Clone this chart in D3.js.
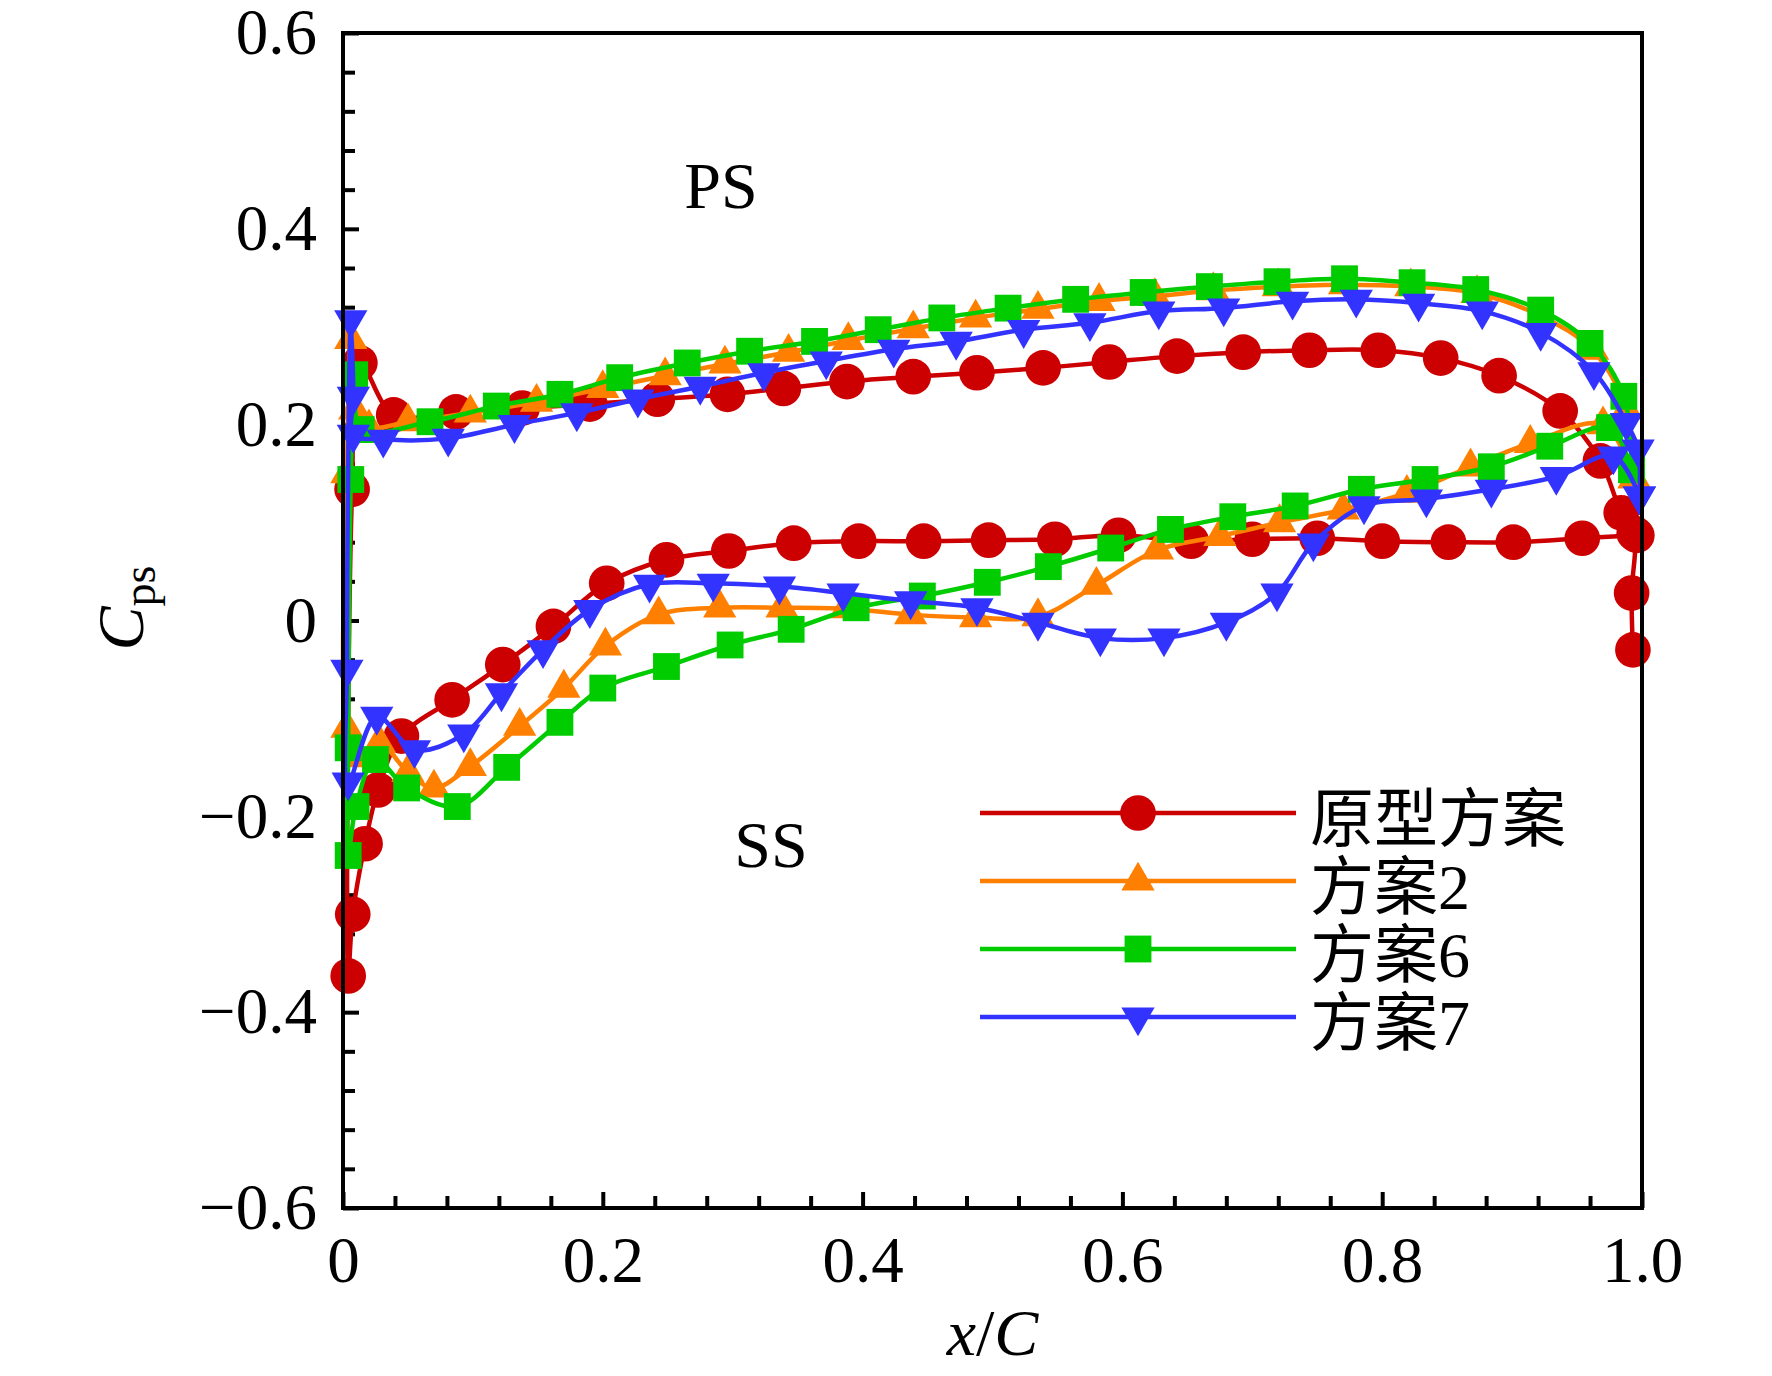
<!DOCTYPE html>
<html>
<head>
<meta charset="utf-8">
<script src="https://cdn.jsdelivr.net/npm/d3@7"></script>
<style>
  body { margin: 0; background: #fff; }
  text { font-family: "Liberation Serif", "Times New Roman", "Noto Sans CJK SC", serif; }
</style>
</head>
<body>
<div id="chart"></div>
<script>
// series names (legend) and colours
var seriesNames = ["原型方案", "方案2", "方案6", "方案7"];

// pressure side: trailing edge -> leading edge ; suction side: leading edge -> trailing edge
var origPS = [[0.993,-0.030],[0.992,0.028],[0.994,0.089],[0.984,0.110],[0.968,0.163],[0.937,0.214],[0.890,0.250],
  [0.845,0.268],[0.797,0.276],[0.744,0.276],[0.693,0.274],[0.642,0.270],[0.590,0.264],[0.539,0.258],[0.488,0.253],
  [0.439,0.249],[0.388,0.244],[0.339,0.237],[0.296,0.231],[0.242,0.226],[0.190,0.221],[0.138,0.217],[0.087,0.213],
  [0.039,0.210],[0.013,0.263],[0.007,0.134],[0.004,-0.363]];
var origSS = [[0.0075,-0.300],[0.017,-0.228],[0.027,-0.173],[0.045,-0.118],[0.084,-0.081],[0.123,-0.045],[0.162,-0.006],
  [0.203,0.038],[0.249,0.062],[0.297,0.071],[0.347,0.079],[0.397,0.081],[0.447,0.081],[0.497,0.082],[0.548,0.083],
  [0.597,0.087],[0.653,0.081],[0.700,0.083],[0.750,0.084],[0.800,0.081],[0.851,0.080],[0.901,0.080],[0.954,0.084],
  [0.996,0.087]];

var case2PS = [[0.994,0.145],[0.988,0.215],[0.962,0.276],[0.922,0.311],[0.873,0.334],[0.822,0.341],[0.771,0.343],
  [0.720,0.341],[0.670,0.337],[0.625,0.331],[0.582,0.326],[0.535,0.318],[0.487,0.309],[0.439,0.298],[0.389,0.286],
  [0.343,0.274],[0.294,0.262],[0.248,0.250],[0.200,0.237],[0.149,0.223],[0.098,0.212],[0.050,0.203],[0.020,0.197],
  [0.009,0.215],[0.006,0.287],[0.003,0.150],[0.003,-0.110]];
var case2SS = [[0.012,-0.140],[0.028,-0.125],[0.050,-0.155],[0.070,-0.171],[0.098,-0.149],[0.136,-0.108],[0.170,-0.069],
  [0.202,-0.026],[0.243,0.006],[0.290,0.013],[0.338,0.013],[0.387,0.012],[0.437,0.006],[0.487,0.003],[0.535,0.004],
  [0.580,0.036],[0.627,0.072],[0.675,0.086],[0.721,0.100],[0.770,0.113],[0.819,0.130],[0.868,0.157],[0.914,0.181],
  [0.970,0.200],[0.994,0.145]];

var case6PS = [[0.992,0.154],[0.986,0.229],[0.960,0.283],[0.922,0.317],[0.872,0.338],[0.823,0.345],[0.771,0.349],
  [0.719,0.346],[0.667,0.341],[0.616,0.335],[0.564,0.328],[0.512,0.319],[0.461,0.309],[0.412,0.297],[0.363,0.285],
  [0.313,0.275],[0.265,0.263],[0.213,0.248],[0.167,0.231],[0.118,0.219],[0.067,0.203],[0.014,0.195],[0.009,0.251],
  [0.006,0.144],[0.004,-0.130],[0.004,-0.240]];
var case6SS = [[0.010,-0.190],[0.025,-0.142],[0.049,-0.171],[0.088,-0.190],[0.126,-0.150],[0.167,-0.104],[0.200,-0.069],
  [0.249,-0.047],[0.298,-0.025],[0.345,-0.009],[0.395,0.013],[0.446,0.025],[0.496,0.039],[0.543,0.055],[0.591,0.074],
  [0.637,0.093],[0.685,0.106],[0.733,0.117],[0.784,0.134],[0.833,0.144],[0.884,0.157],[0.929,0.178],[0.975,0.197],
  [0.992,0.154]];

var case7PS = [[0.998,0.127],[0.997,0.175],[0.988,0.202],[0.963,0.254],[0.922,0.294],[0.877,0.316],[0.828,0.324],
  [0.780,0.328],[0.731,0.326],[0.678,0.319],[0.628,0.316],[0.575,0.304],[0.524,0.297],[0.472,0.285],[0.424,0.277],
  [0.372,0.265],[0.324,0.253],[0.275,0.239],[0.227,0.226],[0.180,0.212],[0.132,0.200],[0.081,0.186],[0.031,0.185],
  [0.008,0.190],[0.008,0.229],[0.006,0.307],[0.003,-0.050]];
var case7SS = [[0.004,-0.165],[0.026,-0.098],[0.055,-0.132],[0.093,-0.116],[0.122,-0.074],[0.154,-0.030],[0.190,0.011],
  [0.236,0.037],[0.285,0.038],[0.336,0.035],[0.385,0.028],[0.437,0.020],[0.488,0.013],[0.535,-0.002],[0.583,-0.018],
  [0.632,-0.018],[0.680,-0.002],[0.719,0.028],[0.747,0.079],[0.786,0.117],[0.834,0.124],[0.884,0.134],[0.934,0.147],
  [0.978,0.168],[0.998,0.127]];

var xMajor = [0, 0.2, 0.4, 0.6, 0.8, 1.0];
var xLabels = ["0", "0.2", "0.4", "0.6", "0.8", "1.0"];
var yMajor = [-0.6, -0.4, -0.2, 0, 0.2, 0.4, 0.6];
var yLabels = ["\u22120.6", "\u22120.4", "\u22120.2", "0", "0.2", "0.4", "0.6"];

var margin = { top: 33, left: 343 };
var w = 1299,
    h = 1175;

var svg = d3.select("#chart").append("svg")
   .attr("width", 1772)
   .attr("height", 1376);

var xScale = d3.scaleLinear().domain([0, 1]).range([margin.left, margin.left + w]);
var yScale = d3.scaleLinear().domain([-0.6, 0.6]).range([margin.top + h, margin.top]);

var series = [
  { name: seriesNames[0], pts: origPS.concat(origSS), color: "#cc0000", shape: "circle" },
  { name: seriesNames[1], pts: case2PS.concat(case2SS), color: "#ff8000", shape: "up" },
  { name: seriesNames[2], pts: case6PS.concat(case6SS), color: "#00cc00", shape: "square" },
  { name: seriesNames[3], pts: case7PS.concat(case7SS), color: "#3333ff", shape: "down" }
];

function symbolPath(shape) {
  if (shape == "circle") return d3.symbol().type(d3.symbolCircle).size(1000)();
  if (shape == "square") return d3.symbol().type(d3.symbolSquare).size(720)();
  return d3.symbol().type(d3.symbolTriangle).size(480)();
}
function symbolRot(shape) {
  return shape == "down" ? " rotate(180)" : "";
}

// minor ticks (every 0.04)
var xMinor = d3.range(0, 1.0001, 0.04).filter(function(d) { return Math.abs(d / 0.2 - Math.round(d / 0.2)) > 1e-6; });
var yMinor = d3.range(-0.6, 0.6001, 0.04).filter(function(d) { return Math.abs(d / 0.2 - Math.round(d / 0.2)) > 1e-6; });

var gxMinor = svg.append("g")
   .attr("transform", "translate(0," + (margin.top + h) + ")")
   .call(d3.axisBottom(xScale).tickValues(xMinor).tickSize(-12).tickFormat(""));
var gyMinor = svg.append("g")
   .attr("transform", "translate(" + margin.left + ",0)")
   .call(d3.axisLeft(yScale).tickValues(yMinor).tickSize(-12).tickFormat(""));

var gx = svg.append("g")
   .attr("class", "x-axis")
   .attr("transform", "translate(0," + (margin.top + h) + ")")
   .call(d3.axisBottom(xScale).tickValues(xMajor)
     .tickFormat(function(d, i) { return xLabels[i]; })
     .tickSize(-16).tickPadding(28));
var gy = svg.append("g")
   .attr("class", "y-axis")
   .attr("transform", "translate(" + margin.left + ",0)")
   .call(d3.axisLeft(yScale).tickValues(yMajor)
     .tickFormat(function(d, i) { return yLabels[i]; })
     .tickSize(-16).tickPadding(26));

svg.selectAll(".domain").remove();
svg.selectAll(".tick line").attr("stroke", "#000").attr("stroke-width", 4);
svg.selectAll(".tick text")
   .attr("fill", "#000")
   .style("font-family", "'Liberation Serif', 'Times New Roman', serif")
   .style("font-size", "65px");

// curves
var line = d3.line()
   .x(function(d) { return xScale(d[0]); })
   .y(function(d) { return yScale(d[1]); })
   .curve(d3.curveCatmullRom.alpha(0.5));

series.forEach(function(s) {
  var g = svg.append("g");
  g.append("path")
   .attr("d", line(s.pts))
   .attr("fill", "none")
   .attr("stroke", s.color)
   .attr("stroke-width", 4.5)
   .attr("stroke-linejoin", "round");
  g.selectAll(".mk")
   .data(s.pts)
   .enter()
   .append("path")
   .attr("class", "mk")
   .attr("d", symbolPath(s.shape))
   .attr("fill", s.color)
   .attr("transform", function(d) { return "translate(" + xScale(d[0]) + "," + yScale(d[1]) + ")" + symbolRot(s.shape); });
});

// frame
svg.append("rect")
   .attr("x", margin.left)
   .attr("y", margin.top)
   .attr("width", w)
   .attr("height", h)
   .attr("fill", "none")
   .attr("stroke", "#000")
   .attr("stroke-width", 4);

// legend
var legY = [813, 881, 949, 1017];
series.forEach(function(s, i) {
  svg.append("line")
     .attr("x1", 980).attr("x2", 1296)
     .attr("y1", legY[i]).attr("y2", legY[i])
     .attr("stroke", s.color)
     .attr("stroke-width", 4.5);
  svg.append("path")
     .attr("d", symbolPath(s.shape))
     .attr("fill", s.color)
     .attr("transform", "translate(1138," + legY[i] + ")" + symbolRot(s.shape));
  svg.append("text")
     .attr("x", 1310)
     .attr("y", legY[i] + 28)
     .style("font-size", "64px")
     .style("font-family", "'Liberation Serif', 'Noto Sans CJK SC', serif")
     .text(s.name);
});

// annotations
svg.append("text")
   .attr("x", 721).attr("y", 208)
   .attr("text-anchor", "middle")
   .style("font-size", "66px")
   .text("PS");
svg.append("text")
   .attr("x", 771).attr("y", 867)
   .attr("text-anchor", "middle")
   .style("font-size", "66px")
   .text("SS");

// axis titles
var xt = svg.append("text")
   .attr("x", xScale(0.5)).attr("y", 1355)
   .attr("text-anchor", "middle")
   .style("font-size", "66px");
xt.append("tspan").style("font-style", "italic").text("x");
xt.append("tspan").text("/");
xt.append("tspan").style("font-style", "italic").text("C");

var yt = svg.append("text")
   .attr("transform", "translate(143,608)rotate(-90)")
   .attr("text-anchor", "middle")
   .style("font-size", "66px");
yt.append("tspan").style("font-style", "italic").text("C");
yt.append("tspan").attr("dy", 12).style("font-size", "46px").text("ps");
</script>
</body>
</html>
